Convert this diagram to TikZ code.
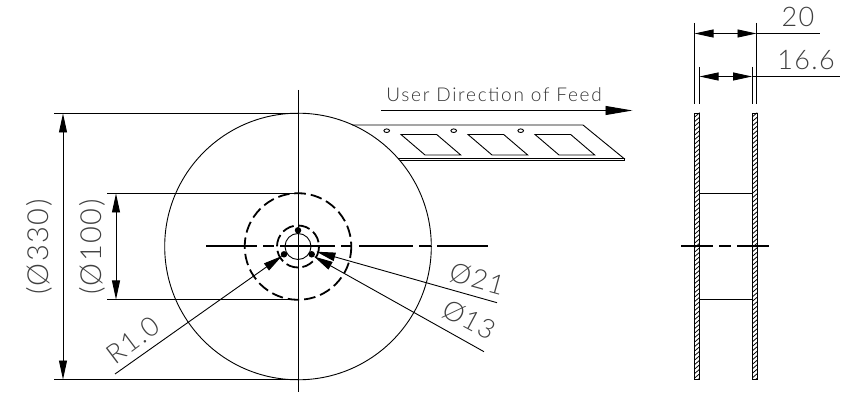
\documentclass[tikz,border=0pt]{standalone}
\usepackage{fontspec}
\setmainfont[LetterSpace=5]{Lato Light}
\newfontfamily\feedfont[LetterSpace=9]{Lato Light}
\usetikzlibrary{arrows.meta}
\tikzset{
  thinline/.style={line width=0.9pt,black},
  heavyline/.style={line width=2pt,black},
  hiddenline/.style={line width=1.8pt,black,dash pattern=on 11.5pt off 5pt},
  dimboth/.style={{Triangle[length=19pt,width=8pt]}-{Triangle[length=19pt,width=8pt]},line width=0.9pt},
  leader/.style={thinline,-{Triangle[length=19pt,width=8.5pt]}},
  dimlabel/.style={inner sep=0pt,font=\fontsize{29}{29}\selectfont,text=black!75},
  anglelabel/.style={inner sep=0pt,font=\fontsize{27}{27}\selectfont,text=black!75},
  smalllabel/.style={inner sep=0pt,font=\feedfont\fontsize{19}{19}\selectfont,text=black!80},
  hubdot/.style={circle,fill=black,inner sep=0pt,minimum size=6.5pt}
}
\begin{document}
\begin{tikzpicture}[x=1pt,y=-1pt]
\useasboundingbox (0,0) rectangle (844,398);
% reel
\coordinate (c) at (298,246.5);
\draw[thinline] (c) circle[radius=133.3];
\draw[hiddenline] (c) circle[radius=53.3];
\draw[hiddenline,dash pattern=on 12pt off 4.5pt] (c) circle[radius=21];
\draw[thinline] (c) circle[radius=13];
\node[hubdot] (d1) at (298,230.3) {};
\node[hubdot] (d2) at (284,254.3) {};
\node[hubdot] (d3) at (311.7,254.3) {};
% centre lines
\draw[thinline,line width=1pt] (298,90) -- (298,392);
\draw[heavyline] (206,246)--(257,246) (263,246)--(274,246) (280,246)--(335,246) (341,246)--(352,246) (359,246)--(413,246) (419,246)--(431,246) (437,246)--(488,246);
% left dims
\draw[thinline] (54,113.5)--(298,113.5) (54,379.5)--(298,379.5) (107,193.5)--(298,193.5) (107,299.5)--(298,299.5);
\draw[dimboth] (63,113.5)--(63,379.5);
\draw[dimboth] (116,193.5)--(116,299.5);
\node[dimlabel,rotate=90] (t330) at (39,247) {(Ø330)};
\node[dimlabel,rotate=90] (t100) at (92,247) {(Ø100)};
% leaders
\coordinate (r1) at (115,374);
\coordinate (p21) at (497,302.7);
\coordinate (p13) at (484,351.7);
\draw[leader] (r1)--(282,256);
\draw[leader] (p21)--(316.5,251.7);
\draw[leader] (p13)--(314,256.5);
\node[anglelabel,rotate=37] (tr) at (133,340) {R1.0};
\node[anglelabel,rotate=-15.5] (t21) at (477,279) {Ø21};
\node[anglelabel,rotate=-28] (t13) at (469,320) {Ø13};
% feed
\draw[thinline,-{Triangle[length=27pt,width=9pt]}] (381,110.5)--(632.5,110.5);
\node[smalllabel] (feed) at (494,95) {User Direction of Feed};
% tape
\draw[thinline] (352,125)--(583,125)--(624,158.5)--(398,158.5);
\draw[thinline] (400,160.5)--(624,160.5)--(624,158.5);
\foreach \i in {0,1,2}{
  \begin{scope}[xshift=\i*67pt]
  \draw[thinline] (401,134.5)--(436.7,134.5)--(460.7,155)--(425,155)--cycle;
  \draw[thinline] (386.7,130.7) ellipse[x radius=2.8,y radius=1.8];
  \end{scope}
}
% side view
\foreach \xa in {694.5,752}{
  \begin{scope}
    \clip (\xa,113)rectangle(\xa+5,379);
    \foreach \k in {0,...,60}{
      \draw[line width=0.8pt] (\xa-1,118+\k*4.5)--(\xa+6,112+\k*4.5);
    }
  \end{scope}
  \draw[thinline] (\xa,113)rectangle(\xa+5,379);
}
\draw[thinline] (699.5,193.5)--(752,193.5) (699.5,299.5)--(752,299.5);
\draw[heavyline] (681,246)--(713,246) (719,246)--(731,246) (737,246)--(769,246);
% top dims
\draw[thinline] (694.5,23)--(694.5,104) (756.5,23)--(756.5,104) (699.5,67)--(699.5,104) (752,67)--(752,104);
\draw[dimboth] (694.5,33.5)--(756.5,33.5);
\draw[thinline] (756.5,33.5)--(820,33.5);
\draw[dimboth] (699.5,76.5)--(752,76.5);
\draw[thinline] (752,76.5)--(840,76.5);
\node[dimlabel,font=\fontsize{27}{27}\selectfont] (t20) at (798,17) {20};
\node[dimlabel,font=\fontsize{27}{27}\selectfont] (t166) at (806,60) {16.6};
\end{tikzpicture}
\end{document}
